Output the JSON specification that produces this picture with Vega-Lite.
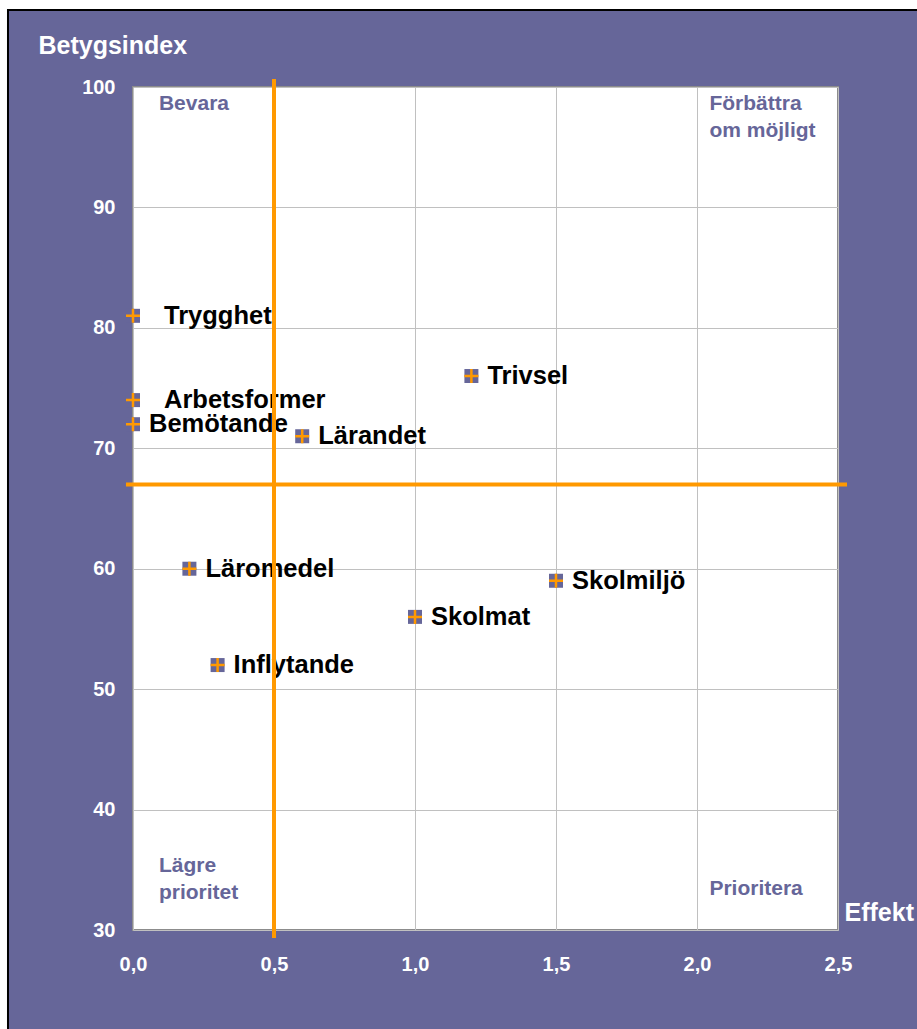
{
  "$schema": "https://vega.github.io/schema/vega-lite/v6.json",
  "width": 705,
  "height": 843,
  "autosize": {"type": "none"},
  "padding": {"left": 133, "top": 87, "right": 79, "bottom": 99},
  "background": "#666699",
  "config": {
    "font": "Liberation Sans",
    "view": {"fill": "white", "stroke": "#8c8c8c", "strokeWidth": 2},
    "axis": {
      "grid": true,
      "gridColor": "#c0c0c0",
      "gridWidth": 1,
      "ticks": false,
      "domain": false,
      "labelColor": "white",
      "labelFontSize": 20,
      "labelFontWeight": "bold",
      "labelFlush": false,
      "labelOverlap": false,
      "labelBound": false,
      "titleColor": "white",
      "titleFontSize": 25,
      "titleFontWeight": "bold",
      "titleAlign": "left",
      "titleBaseline": "alphabetic",
      "titleAngle": 0
    }
  },
  "datasets": {
    "points": [
      {"name": "Trygghet", "effekt": 0.0, "index": 81},
      {"name": "Arbetsformer", "effekt": 0.0, "index": 74},
      {"name": "Bemötande", "effekt": 0.0, "index": 72},
      {"name": "Lärandet", "effekt": 0.6, "index": 71},
      {"name": "Trivsel", "effekt": 1.2, "index": 76},
      {"name": "Läromedel", "effekt": 0.2, "index": 60},
      {"name": "Skolmiljö", "effekt": 1.5, "index": 59},
      {"name": "Skolmat", "effekt": 1.0, "index": 56},
      {"name": "Inflytande", "effekt": 0.3, "index": 52}
    ],
    "quadrants": [
      {"label": ["Bevara"], "qx": 0.092, "qy": 98.09},
      {"label": ["Förbättra", "om möjligt"], "qx": 2.044, "qy": 98.09},
      {"label": ["Lägre", "prioritet"], "qx": 0.092, "qy": 34.82},
      {"label": ["Prioritera"], "qx": 2.044, "qy": 32.91}
    ]
  },
  "layer": [
    {
      "data": {"name": "points"},
      "mark": {"type": "point", "shape": "square", "filled": true, "color": "#666699", "size": 196, "opacity": 1},
      "encoding": {
        "x": {
          "field": "effekt", "type": "quantitative",
          "scale": {"domain": [0, 2.5], "nice": false, "zero": false},
          "axis": {
            "values": [0, 0.5, 1, 1.5, 2, 2.5],
            "labelExpr": "replace(format(datum.value, '.1f'), '.', ',')",
            "labelPadding": 24,
            "title": "Effekt",
            "titleX": 711,
            "titleY": -10
          }
        },
        "y": {
          "field": "index", "type": "quantitative",
          "scale": {"domain": [30, 100], "nice": false, "zero": false},
          "axis": {
            "values": [30, 40, 50, 60, 70, 80, 90, 100],
            "labelPadding": 18,
            "title": "Betygsindex",
            "titleX": -95,
            "titleY": -34
          }
        }
      }
    },
    {
      "data": {"values": [{}]},
      "mark": {"type": "rect", "fill": "white"},
      "encoding": {
        "x": {"datum": -1, "type": "quantitative"},
        "x2": {"datum": 4},
        "y": {"datum": 106.39, "type": "quantitative"},
        "y2": {"datum": 112}
      }
    },
    {
      "data": {"values": [{}]},
      "mark": {"type": "rect", "fill": "white"},
      "encoding": {
        "x": {"datum": -1, "type": "quantitative"},
        "x2": {"datum": -0.4433},
        "y": {"datum": 0, "type": "quantitative"},
        "y2": {"datum": 112}
      }
    },
    {
      "data": {"values": [{}]},
      "mark": {"type": "rect", "fill": null, "fillOpacity": 0, "stroke": "black", "strokeWidth": 2},
      "encoding": {
        "x": {"datum": -0.4433, "type": "quantitative"},
        "x2": {"datum": 4},
        "y": {"datum": 0, "type": "quantitative"},
        "y2": {"datum": 106.39}
      }
    },
    {
      "data": {"name": "points"},
      "mark": {"type": "point", "shape": "M-1,0L1,0M0,-1L0,1", "filled": false, "stroke": "#FF9900", "strokeWidth": 2.5, "size": 196, "opacity": 1},
      "encoding": {
        "x": {"field": "effekt", "type": "quantitative"},
        "y": {"field": "index", "type": "quantitative"}
      }
    },
    {
      "data": {"name": "points"},
      "transform": [{"filter": "datum.name === 'Trygghet' || datum.name === 'Arbetsformer'"}],
      "mark": {"type": "text", "align": "left", "baseline": "middle", "dx": 31, "fontSize": 25.5, "fontWeight": "bold", "color": "black"},
      "encoding": {
        "x": {"field": "effekt", "type": "quantitative"},
        "y": {"field": "index", "type": "quantitative"},
        "text": {"field": "name"}
      }
    },
    {
      "data": {"name": "points"},
      "transform": [{"filter": "datum.name !== 'Trygghet' && datum.name !== 'Arbetsformer'"}],
      "mark": {"type": "text", "align": "left", "baseline": "middle", "dx": 16, "fontSize": 25.5, "fontWeight": "bold", "color": "black"},
      "encoding": {
        "x": {"field": "effekt", "type": "quantitative"},
        "y": {"field": "index", "type": "quantitative"},
        "text": {"field": "name"}
      }
    },
    {
      "data": {"name": "quadrants"},
      "mark": {"type": "text", "align": "left", "baseline": "alphabetic", "fontSize": 21, "fontWeight": "bold", "color": "#666699", "lineHeight": 27},
      "encoding": {
        "x": {"field": "qx", "type": "quantitative"},
        "y": {"field": "qy", "type": "quantitative"},
        "text": {"field": "label"}
      }
    },
    {
      "data": {"values": [{}]},
      "mark": {"type": "rule", "color": "#FF9900", "strokeWidth": 4},
      "encoding": {
        "x": {"datum": 0.5, "type": "quantitative"},
        "y": {"datum": 100.66, "type": "quantitative"},
        "y2": {"datum": 29.34}
      }
    },
    {
      "data": {"values": [{}]},
      "mark": {"type": "rule", "color": "#FF9900", "strokeWidth": 4},
      "encoding": {
        "y": {"datum": 67, "type": "quantitative"},
        "x": {"datum": -0.025, "type": "quantitative"},
        "x2": {"datum": 2.532}
      }
    }
  ]
}
